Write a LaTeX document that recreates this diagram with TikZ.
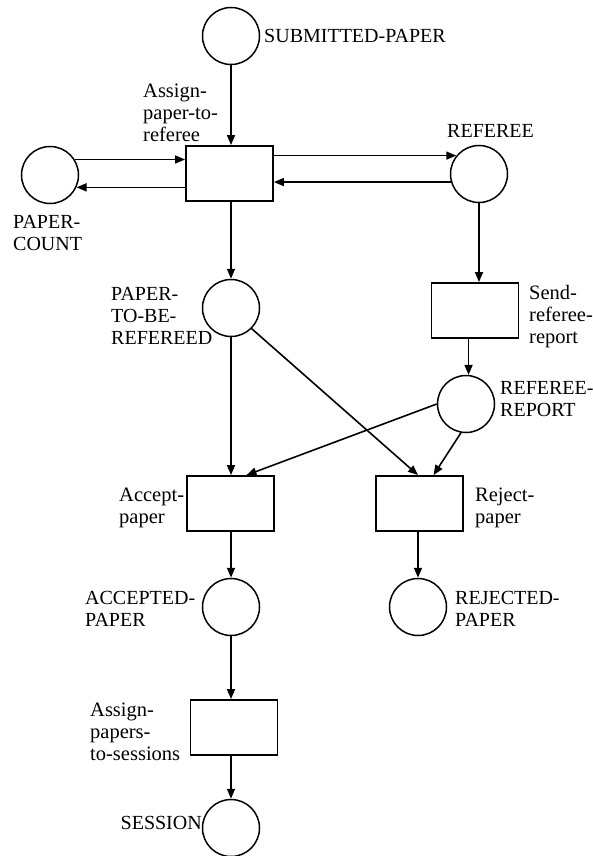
\documentclass[tikz,border=0pt]{standalone}
\usepackage{fontspec}
\setmainfont{Liberation Serif}
\usetikzlibrary{arrows.meta}
\begin{document}
\begin{tikzpicture}[x=1pt,y=-1pt,
  place/.style={draw, circle, minimum size=57pt, inner sep=0pt, line width=1.5pt},
  trans/.style={draw, rectangle, minimum width=87pt, minimum height=55pt, inner sep=0pt, line width=1.8pt},
  lbl/.style={inner sep=0pt, align=left, font=\fontsize{20}{22}\selectfont},
  tlbl/.style={inner sep=0pt, align=left, font=\fontsize{20.5}{22}\selectfont},
  arc/.style={line width=1.6pt, -{Triangle[length=10pt,width=8pt]}}]
\useasboundingbox (0,0) rectangle (593,856);

% places
\node[place] (sub)  at (231,36)  {};
\node[place] (pc)   at (50,175)  {};
\node[place] (ref)  at (479,174) {};
\node[place] (ptbr) at (231,308) {};
\node[place] (rr)   at (466,404) {};
\node[place] (acc)  at (231,607) {};
\node[place] (rej)  at (418,607) {};
\node[place] (ses)  at (231,828) {};

% transitions
\node[trans] (t1)     at (229.5,173.5) {};
\node[trans] (send)   at (475,310.5)   {};
\node[trans] (accept) at (230.5,503.5) {};
\node[trans] (reject) at (419.5,503.5) {};
\node[trans] (t5)     at (234,727.5)   {};

% labels (base = baseline of the last line)
\node[lbl, anchor=base west]  (lsub)  at (264,43)  {SUBMITTED-PAPER};
\node[tlbl, anchor=base west] (l1)    at (143,142) {Assign-\\paper-to-\\referee};
\node[lbl, anchor=base west]  (lref)  at (447,137) {REFEREE};
\node[lbl, anchor=base west]  (lpc)   at (13,250)  {PAPER-\\COUNT};
\node[lbl, anchor=base west]  (lptbr) at (111,344) {PAPER-\\TO-BE-\\REFEREED};
\node[tlbl, anchor=base west] (lsend) at (529,343) {Send-\\referee-\\report};
\node[lbl, anchor=base west]  (lrr)   at (500,416) {REFEREE-\\REPORT};
\node[tlbl, anchor=base west] (lacc)  at (119,523) {Accept-\\paper};
\node[tlbl, anchor=base west] (lrej)  at (475,523) {Reject-\\paper};
\node[lbl, anchor=base west]  (lacp)  at (85,626)  {ACCEPTED-\\PAPER};
\node[lbl, anchor=base west]  (lrjp)  at (455,626) {REJECTED-\\PAPER};
\node[tlbl, anchor=base west] (lses)  at (90,760)  {Assign-\\papers-\\to-sessions};
\node[lbl, anchor=base east]  (lsn)   at (202,829) {SESSION};

% arcs
\draw[arc] (sub.south) -- (sub.south |- t1.north);
\draw[arc] (pc.32) -- (pc.32 -| t1.west);
\draw[arc] (t1.west |- pc.-25) -- (pc.-25);
\draw[arc] (t1.east |- ref.141) -- (ref.141);
\draw[arc] (ref.196) -- (ref.196 -| t1.east);
\draw[arc] (t1.south -| ptbr.north) -- (ptbr.north);
\draw[arc] (ref.south) -- (ref.south |- send.north);
\draw[arc] (send.south -| rr.85) -- (rr.85);
\draw[arc] (ptbr.south) -- (ptbr.south |- accept.north);
\draw[arc] (ptbr.-45) -- ([xshift=-1.5pt]reject.north);
\draw[arc] (rr.west) -- ([xshift=16pt]accept.north);
\draw[arc] (rr.-100) -- ([xshift=14pt]reject.north);
\draw[arc] (acc.north |- accept.south) -- (acc.north);
\draw[arc] (rej.north |- reject.south) -- (rej.north);
\draw[arc] (acc.south) -- (acc.south |- t5.north);
\draw[arc] (t5.south -| ses.north) -- (ses.north);
\end{tikzpicture}
\end{document}
